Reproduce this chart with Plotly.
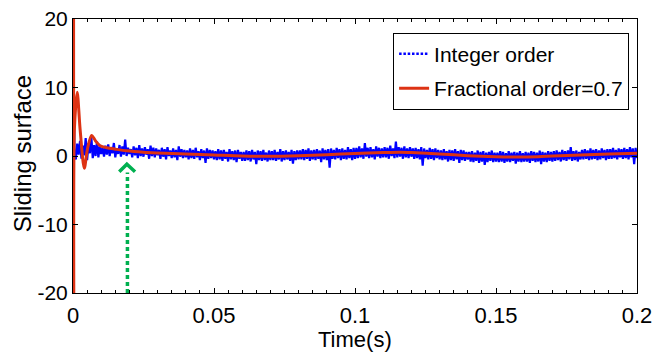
import plotly.graph_objects as go

# ---------------- data ----------------
# Fractional order (red) sliding surface, key samples
red_t = [0.0002, 0.0003, 0.0005, 0.0015, 0.0025, 0.004, 0.0052, 0.0066, 0.008,
         0.0096, 0.012, 0.015, 0.019, 0.025, 0.03, 0.04, 0.05, 0.06, 0.07,
         0.08, 0.09, 0.10, 0.11, 0.116, 0.12, 0.13, 0.14, 0.15, 0.157, 0.165,
         0.17, 0.18, 0.19, 0.2]
red_v = [25.0, -25.0, 4.0, 9.3, 4.0, -1.8, 1.2, 3.0, 2.2,
         1.5, 1.2, 1.0, 0.76, 0.55, 0.45, 0.3, 0.15, 0.0, -0.05,
         0.05, 0.2, 0.38, 0.5, 0.55, 0.5, 0.3, 0.05, -0.1, -0.15, -0.1,
         0.0, 0.15, 0.3, 0.4]

# Integer order (blue) sliding surface: initial spike, then noisy samples every 0.5 ms
blue_dt = 0.0005
blue_start = 25.0
blue_v = [
    # 0.0005 - 0.010
    0.3, -0.5, 1.8, 0.2, 2.2, -0.4, 1.5, 0.1, 2.6, -0.6, 1.9, 0.4, 2.8, -0.3, 1.6, 0.0, 2.1, -0.2, 1.4, 0.3,
    # 0.0105 - 0.020
    1.2, -0.1, 1.5, 0.2, 1.7, 0.0, 1.3, 0.4, 1.9, -0.2, 1.1, 0.3, 1.6, -0.1, 1.4, 0.2, 2.4, 0.0, 1.2, 0.3,
    # 0.0205 - 0.030
    1.0, -0.2, 1.4, 0.1, 1.2, -0.3, 1.6, 0.0, 1.1, -0.1, 1.3, 0.2, 1.0, -0.4, 1.5, 0.0, 1.2, -0.2, 1.1, 0.1,
    # 0.0305 - 0.040
    0.9, -0.4, 1.2, -0.1, 1.0, -0.5, 1.3, 0.0, 0.8, -0.3, 1.1, -0.2, 0.9, -0.6, 1.4, -0.1, 1.0, -0.3, 0.9, -0.2,
    # 0.0405 - 0.050
    0.8, -0.5, 1.1, -0.3, 0.9, -0.4, 1.2, -0.2, 0.7, -0.6, 1.0, -0.3, 0.8, -1.0, 1.1, -0.4, 0.9, -0.3, 0.8, -0.5,
    # 0.0505 - 0.060
    0.7, -0.6, 1.0, -0.5, 0.8, -0.7, 0.9, -0.4, 0.6, -0.8, 1.0, -0.5, 0.7, -0.6, 0.8, -0.9, 0.9, -0.4, 0.6, -0.7,
    # 0.0605 - 0.070
    0.6, -0.7, 0.8, -0.6, 0.7, -0.8, 0.9, -0.5, 0.6, -1.2, 0.8, -0.6, 0.7, -0.7, 0.9, -0.6, 0.5, -0.8, 0.8, -0.6,
    # 0.0705 - 0.080
    0.7, -0.6, 0.9, -0.7, 0.6, -0.5, 1.0, -0.8, 0.7, -0.6, 0.8, -0.5, 0.6, -0.7, 0.9, -1.1, 0.7, -0.6, 0.8, -0.5,
    # 0.0805 - 0.090
    0.8, -0.5, 1.0, -0.6, 0.9, -0.4, 1.1, -0.7, 0.8, -0.5, 0.9, -0.6, 1.0, -0.4, 0.8, -0.9, 1.1, -0.5, 0.9, -0.6,
    # 0.0905 - 0.100
    1.0, -1.7, 1.1, -0.4, 0.9, -0.5, 1.2, -0.3, 1.0, -0.6, 1.1, -0.4, 0.9, -0.5, 1.3, -0.3, 1.0, -0.6, 1.2, -0.4,
    # 0.1005 - 0.110
    1.2, -0.3, 1.4, -0.2, 1.1, -0.4, 1.9, -0.1, 1.2, -0.3, 1.3, -0.2, 1.0, -0.5, 1.4, -0.1, 1.2, -0.3, 1.1, -0.2,
    # 0.1105 - 0.120
    1.3, -0.2, 1.2, -0.4, 1.5, 0.0, 1.1, -0.3, 2.1, -0.2, 1.3, -0.1, 1.2, -0.4, 1.4, -0.2, 1.1, -0.3, 1.3, -0.1,
    # 0.1205 - 0.130
    1.1, -0.4, 1.2, -0.3, 1.0, -0.5, 1.3, -1.4, 1.1, -0.3, 0.9, -0.5, 1.2, -0.4, 1.0, -0.6, 1.1, -0.3, 0.9, -0.5,
    # 0.1305 - 0.140
    0.8, -0.6, 1.0, -0.5, 0.7, -0.8, 0.9, -0.6, 0.8, -0.7, 1.0, -0.5, 0.7, -1.0, 0.9, -0.6, 0.8, -0.7, 0.6, -0.5,
    # 0.1405 - 0.150
    0.6, -0.8, 0.7, -0.9, 0.5, -0.7, 0.8, -1.0, 0.6, -0.8, 0.7, -1.3, 0.5, -0.9, 0.6, -0.7, 0.8, -0.9, 0.5, -0.8,
    # 0.1505 - 0.160
    0.5, -0.9, 0.7, -0.8, 0.6, -1.0, 0.4, -0.8, 0.7, -0.9, 0.5, -0.7, 0.6, -1.1, 0.5, -0.8, 0.7, -0.9, 0.4, -0.8,
    # 0.1605 - 0.170
    0.6, -0.8, 0.5, -1.0, 0.7, -0.7, 0.6, -0.9, 0.5, -0.8, 0.8, -1.2, 0.6, -0.8, 0.5, -0.9, 0.7, -0.7, 0.6, -0.8,
    # 0.1705 - 0.180
    0.7, -0.7, 0.8, -0.6, 0.6, -0.8, 0.9, -0.6, 0.7, -0.7, 0.8, -0.5, 1.3, -0.7, 0.7, -0.6, 0.8, -0.8, 0.6, -0.5,
    # 0.1805 - 0.190
    0.9, -0.5, 1.0, -0.4, 0.8, -0.6, 1.1, -0.5, 0.9, -0.4, 1.0, -0.6, 0.8, -0.5, 1.1, -0.3, 0.9, -0.6, 1.0, -0.4,
    # 0.1905 - 0.200
    1.0, -0.4, 1.2, -0.3, 0.9, -0.5, 1.1, -0.2, 1.0, -0.4, 1.2, -0.3, 1.0, -0.5, 1.3, -0.2, 1.1, -1.2, 1.2, -0.3,
]
blue_t = [0.0] + [round(blue_dt * (k + 1), 6) for k in range(len(blue_v))]
blue_y = [blue_start] + blue_v

# green annotation arrow (time ~ 0.019 s)
arrow_shaft_t = [0.0193, 0.0193]
arrow_shaft_v = [-20.0, -2.4]
arrow_head_t = [0.0164, 0.0191, 0.0220]
arrow_head_v = [-2.3, -1.2, -2.3]

x_ticks = [0, 0.05, 0.1, 0.15, 0.2]
x_tick_labels = ["0", "0.05", "0.1", "0.15", "0.2"]
y_ticks = [-20, -10, 0, 10, 20]
y_tick_labels = ["-20", "-10", "0", "10", "20"]

series_names = ["Integer order", "Fractional order=0.7"]
x_title = "Time(s)"
y_title = "Sliding surface"

# ---------------- figure ----------------
FONT = "Liberation Sans, Arial, Helvetica, sans-serif"
BLUE = "#0000ff"
RED = "#dd3314"
GREEN = "#00b050"

fig = go.Figure()
# dense noisy band (drawn solid because the dotted samples overlap into a band)
fig.add_trace(go.Scatter(
    x=blue_t, y=blue_y, mode="lines", name=series_names[0], showlegend=False,
    legendgroup="a", line=dict(color=BLUE, width=2.2),
))
# legend entry for the dotted integer-order line
fig.add_trace(go.Scatter(
    x=[None], y=[None], mode="lines", name=series_names[0], legendgroup="a",
    line=dict(color=BLUE, width=2.5, dash="2.5px,1.8px"),
))
fig.add_trace(go.Scatter(
    x=red_t, y=red_v, mode="lines", name=series_names[1], legendgroup="b",
    line=dict(color=RED, width=3, shape="spline", smoothing=0.8),
))
fig.add_trace(go.Scatter(
    x=arrow_shaft_t, y=arrow_shaft_v, mode="lines", showlegend=False,
    line=dict(color=GREEN, width=3.5, dash="4px,3px"), hoverinfo="skip",
))
fig.add_trace(go.Scatter(
    x=arrow_head_t, y=arrow_head_v, mode="lines", showlegend=False,
    line=dict(color=GREEN, width=3.5), hoverinfo="skip",
))

axis_common = dict(
    showline=True, linecolor="black", linewidth=1, mirror="ticks",
    ticks="inside", tickcolor="black", ticklen=5, tickwidth=1,
    showgrid=False, zeroline=False, automargin=False,
    ticklabeloverflow="allow",
)

fig.update_xaxes(
    range=[0, 0.2], tickvals=x_ticks, ticktext=x_tick_labels,
    minor=dict(dtick=0.005, ticks="inside", ticklen=3, tickcolor="black", showgrid=False),
    ticklabelstandoff=3,
    tickfont=dict(family=FONT, size=22, color="black"),
    **axis_common,
)
fig.update_yaxes(
    range=[-20, 20], tickvals=y_ticks, ticktext=y_tick_labels,
    ticklabelstandoff=0,
    tickfont=dict(family=FONT, size=21, color="black"),
    **axis_common,
)

fig.add_annotation(
    text=x_title, xref="paper", yref="paper", x=0.5, y=-0.168,
    xanchor="center", yanchor="middle", showarrow=False,
    font=dict(family=FONT, size=22, color="black"),
)
fig.add_annotation(
    text=y_title, xref="paper", yref="paper", x=-0.0905, y=0.51,
    xanchor="center", yanchor="middle", textangle=-90, showarrow=False,
    font=dict(family=FONT, size=24, color="black"),
)

# the page body adds an 8px offset, so the figure is 8px smaller than the window
fig.update_layout(
    width=657, height=348,
    margin=dict(l=65, r=28, t=11, b=63),
    paper_bgcolor="white", plot_bgcolor="white",
    showlegend=True,
    legend=dict(
        x=0.986, y=0.95, xanchor="right", yanchor="top",
        bgcolor="white", bordercolor="black", borderwidth=1,
        font=dict(family=FONT, size=21, color="black"),
        tracegroupgap=4, itemwidth=30,
    ),
)

fig.write_html("out.html")
